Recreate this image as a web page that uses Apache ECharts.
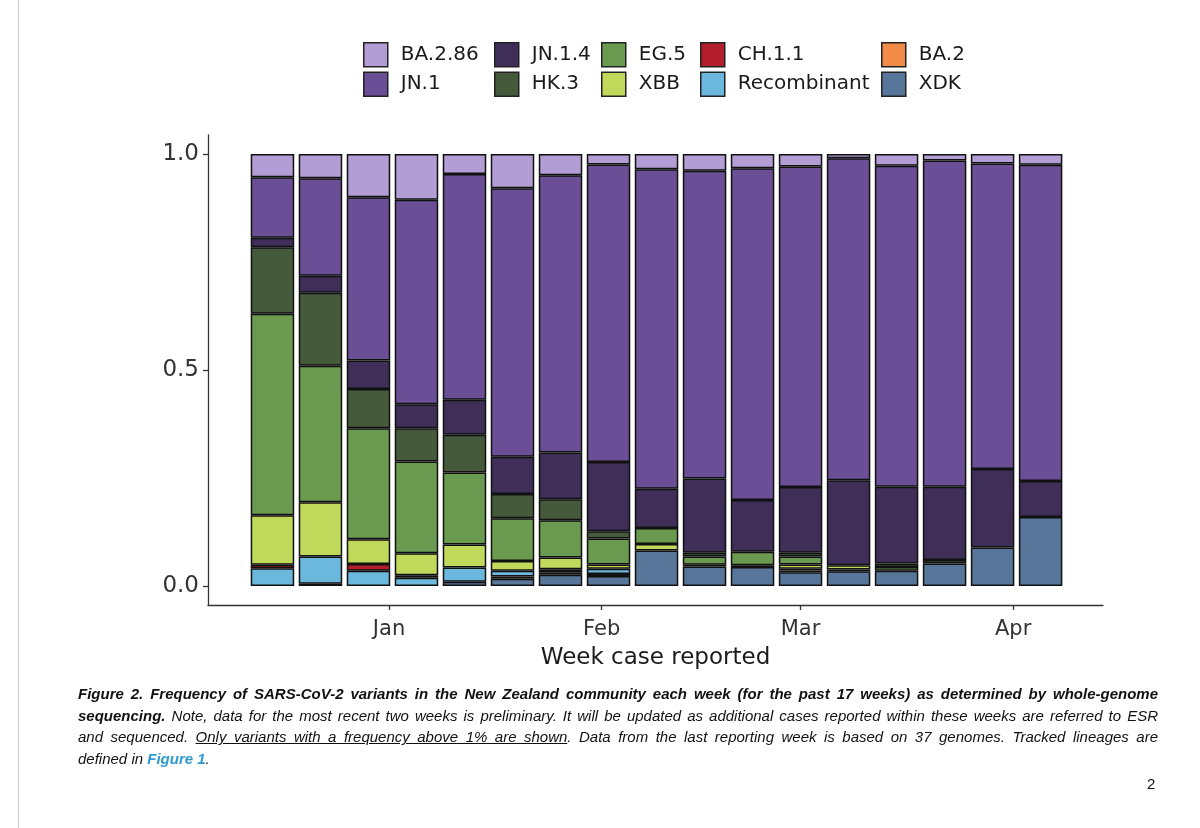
<!DOCTYPE html>
<html>
<head>
<meta charset="utf-8">
<script src="https://cdn.jsdelivr.net/npm/echarts@6/dist/echarts.min.js"></script>
<style>
  html, body { margin: 0; padding: 0; background: #ffffff; }
  #wrap { position: relative; width: 1200px; height: 828px; overflow: hidden; }
  #chart { position: absolute; left: 0; top: 0; width: 1200px; height: 828px; }
  #caption { position: absolute; left: 78px; top: 683px; width: 1080px;
    font-family: "Liberation Sans", Arial, sans-serif; font-style: italic; font-size: 15px;
    color: #111; line-height: 21.7px; }
  #caption div { text-align: justify; text-align-last: justify; white-space: nowrap; }
  #caption div.last { text-align-last: left; }
  #caption .fig { color: #2e9ad0; font-weight: bold; }
  #pagenum { position: absolute; left: 1147px; top: 775px; font-family: "Liberation Sans", Arial, sans-serif; font-size: 15px; color: #111; }
</style>
</head>
<body>
<div id="wrap">
  <div id="chart"></div>
  <div id="caption">
    <div><b>Figure 2. Frequency of SARS-CoV-2 variants in the New Zealand community each week (for the past 17 weeks) as determined by whole-genome</b></div>
    <div><b>sequencing.</b> Note, data for the most recent two weeks is preliminary. It will be updated as additional cases reported within these weeks are referred to ESR</div>
    <div>and sequenced. <u>Only variants with a frequency above 1% are shown</u>. Data from the last reporting week is based on 37 genomes. Tracked lineages are</div>
    <div class="last">defined in <span class="fig">Figure 1</span>.</div>
  </div>
  <div id="pagenum">2</div>
</div>
<script>
// ---- data ----
const weeks = ['2023-12-15','2023-12-22','2023-12-29','2024-01-05','2024-01-12','2024-01-19','2024-01-26','2024-02-02','2024-02-09','2024-02-16','2024-02-23','2024-03-01','2024-03-08','2024-03-15','2024-03-22','2024-03-29','2024-04-05'];
const monthTicks = ['2024-01-01','2024-02-01','2024-03-01','2024-04-01'];
const monthLabels = ['Jan','Feb','Mar','Apr'];
const yTicks = [0, 0.5, 1.0];

const XDK    = [0, 0.005, 0, 0, 0.010, 0.017, 0.026, 0.023, 0.082, 0.045, 0.044, 0.032, 0.034, 0.035, 0.052, 0.089, 0.160];
const BA2    = [0, 0, 0, 0, 0, 0.005, 0.006, 0.005, 0, 0, 0, 0.004, 0, 0, 0, 0, 0];
const Recomb = [0.041, 0.063, 0.035, 0.019, 0.033, 0.013, 0.007, 0.012, 0, 0, 0.004, 0.004, 0.004, 0, 0, 0, 0];
const CH11   = [0.008, 0, 0.016, 0.006, 0, 0, 0, 0, 0, 0, 0, 0, 0, 0, 0, 0, 0];
const XBB    = [0.115, 0.126, 0.057, 0.051, 0.053, 0.023, 0.027, 0.010, 0.015, 0.004, 0, 0.010, 0.010, 0, 0, 0, 0];
const EG5    = [0.466, 0.316, 0.257, 0.212, 0.167, 0.099, 0.086, 0.060, 0.037, 0.019, 0.031, 0.018, 0, 0.009, 0, 0, 0];
const HK3    = [0.154, 0.169, 0.091, 0.077, 0.087, 0.056, 0.049, 0.017, 0, 0.009, 0, 0.009, 0, 0.008, 0.008, 0, 0];
const JN14   = [0.022, 0.039, 0.066, 0.056, 0.081, 0.086, 0.108, 0.160, 0.091, 0.172, 0.120, 0.152, 0.197, 0.178, 0.170, 0.182, 0.083];
const JN1    = [0.140, 0.226, 0.378, 0.473, 0.523, 0.622, 0.642, 0.689, 0.740, 0.712, 0.768, 0.742, 0.745, 0.743, 0.755, 0.707, 0.732];
const BA286  = [0.054, 0.056, 0.100, 0.106, 0.046, 0.079, 0.049, 0.024, 0.035, 0.039, 0.033, 0.029, 0.010, 0.027, 0.015, 0.022, 0.025];

// bottom-to-top stacking order
const variantNames  = ['XDK', 'BA.2', 'Recombinant', 'CH.1.1', 'XBB', 'EG.5', 'HK.3', 'JN.1.4', 'JN.1', 'BA.2.86'];
const variantValues = [XDK, BA2, Recomb, CH11, XBB, EG5, HK3, JN14, JN1, BA286];
const variantColors = ['#587699', '#f08c47', '#6cb7dd', '#b21e2b', '#c1d95a', '#6a9a4f', '#455a3a', '#3e2e58', '#6a4f96', '#b29dd4'];

// legend columns (column-major, as in the reference)
const legendColumns = [['BA.2.86', 'JN.1'], ['JN.1.4', 'HK.3'], ['EG.5', 'XBB'], ['CH.1.1', 'Recombinant'], ['BA.2', 'XDK']];
const legendLeft = [363, 494, 601, 700, 881];

// ---- layout constants ----
const DAY = 86400000;
const GRID_LEFT = 208, GRID_RIGHT = 97, BAR_W = 43.5;
const gridWidth = 1200 - GRID_LEFT - GRID_RIGHT;
const xMinDays = -26.4, xMaxDays = 104.1;        // visible span, days after 1 Jan

function ms(s) { const p = s.split('-').map(Number); return Date.UTC(p[0], p[1] - 1, p[2]); }
const weekX = weeks.map(ms);
const jan1 = ms(monthTicks[0]);
const monthDays = monthTicks.map(s => (ms(s) - jan1) / DAY);

// ECharts widens a time axis that carries bars by the bar width; pre-shrink so the
// final time span equals the day span used by the month axis.
const spanCenter = (xMinDays + xMaxDays) / 2;
const shrunkHalf = (xMaxDays - xMinDays) * (1 - BAR_W / gridWidth) / 2;

const chart = echarts.init(document.getElementById('chart'));
const axisColor = '#333333';
const font = '"DejaVu Sans", sans-serif';

const series = variantNames.map((name, i) => ({
  name: name,
  type: 'bar',
  stack: 'total',
  xAxisIndex: 0,
  barWidth: BAR_W,
  itemStyle: { color: variantColors[i], borderColor: '#111111', borderWidth: 1.5 },
  emphasis: { disabled: true },
  data: variantValues[i].map((v, k) => [weekX[k], v > 0 ? v : '-'])
}));

const legends = legendColumns.map((col, i) => ({
  orient: 'vertical',
  left: legendLeft[i],
  top: 42,
  padding: 0,
  itemWidth: 24,
  itemHeight: 24,
  itemGap: 4,
  icon: 'rect',
  selectedMode: false,
  data: col,
  itemStyle: { borderColor: '#222222', borderWidth: 1.5 },
  textStyle: { fontFamily: font, fontSize: 20, lineHeight: 24, color: '#1a1a1a', padding: [0, 0, 0, 8] }
}));

chart.setOption({
  animation: false,
  backgroundColor: '#ffffff',
  legend: legends,
  grid: { left: GRID_LEFT, right: GRID_RIGHT, top: 135, bottom: 223, containLabel: false },
  xAxis: [{
    // time axis that positions the weekly bars
    type: 'time',
    min: jan1 + (spanCenter - shrunkHalf) * DAY,
    max: jan1 + (spanCenter + shrunkHalf) * DAY,
    position: 'bottom',
    axisLine: { show: true, onZero: false, lineStyle: { color: axisColor, width: 1.3 } },
    axisTick: { show: false },
    axisLabel: { show: false },
    splitLine: { show: false }
  }, {
    // same span in days, used for the month ticks and labels
    type: 'value',
    min: xMinDays,
    max: xMaxDays,
    position: 'bottom',
    offset: 0,
    name: 'Week case reported',
    nameLocation: 'middle',
    nameGap: 42,
    nameTextStyle: { fontFamily: font, fontSize: 23, color: '#1a1a1a' },
    axisLine: { show: false, onZero: false },
    axisTick: { show: true, length: 5, customValues: monthDays, lineStyle: { color: axisColor, width: 1.3 } },
    axisLabel: {
      customValues: monthDays,
      formatter: v => { const i = monthDays.indexOf(v); return i >= 0 ? monthLabels[i] : ''; },
      fontFamily: font, fontSize: 21, color: '#333333', margin: 14
    },
    splitLine: { show: false }
  }],
  yAxis: {
    type: 'value',
    min: -0.044,
    max: 1.044,
    axisLine: { show: true, onZero: false, lineStyle: { color: axisColor, width: 1.3 } },
    axisTick: { show: true, length: 5, customValues: yTicks, lineStyle: { color: axisColor, width: 1.3 } },
    axisLabel: {
      customValues: yTicks,
      formatter: v => v.toFixed(1),
      fontFamily: font, fontSize: 23, color: '#333333', margin: 9
    },
    splitLine: { show: false }
  },
  graphic: [{
    type: 'line', silent: true,
    shape: { x1: 18.5, y1: 0, x2: 18.5, y2: 828 },
    style: { stroke: '#c8c8c8', lineWidth: 1 }
  }],
  series: series
});
</script>
</body>
</html>
